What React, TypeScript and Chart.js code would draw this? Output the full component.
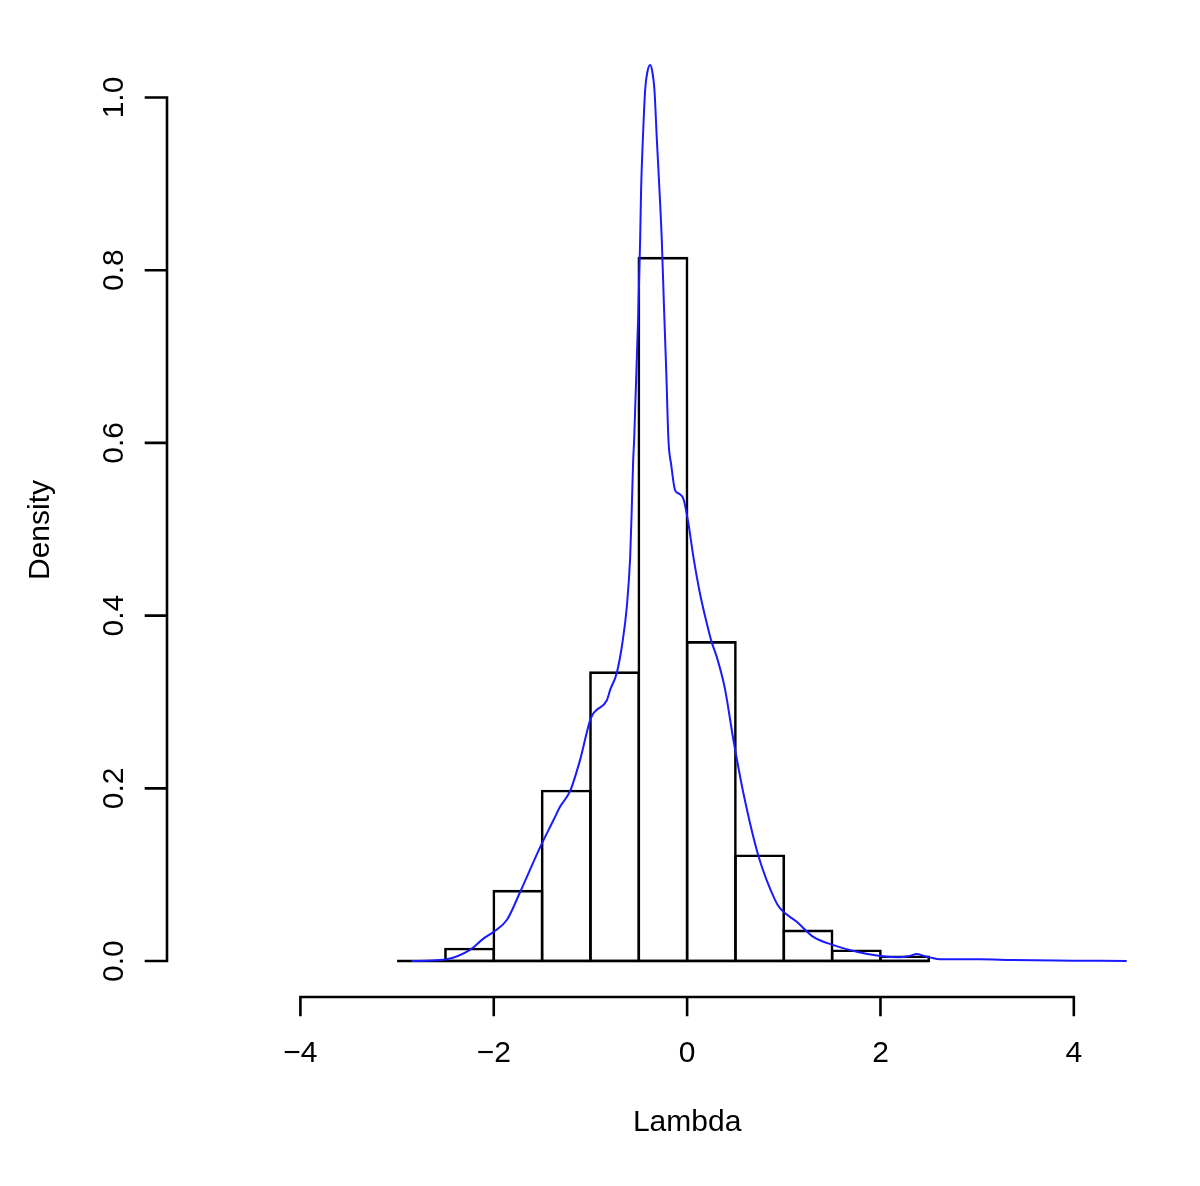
import { useEffect, useRef } from 'react';
import { Chart, registerables } from 'chart.js';

Chart.register(...registerables);

// Histogram bins (width 0.5), centers and density heights
const binWidth = 0.5;
const binCenters = [-2.75, -2.25, -1.75, -1.25, -0.75, -0.25, 0.25, 0.75, 1.25, 1.75, 2.25];
const binDensity = [0, 0.014, 0.081, 0.197, 0.334, 0.814, 0.369, 0.122, 0.035, 0.012, 0.005];

// Kernel density curve
const densityX = [
  -2.85, -2.7, -2.49, -2.25, -2.107, -2.0, -1.865, -1.727, -1.52, -1.383, -1.313, -1.21, -1.107,
  -1.003, -0.969, -0.934, -0.83, -0.796, -0.727, -0.67, -0.624, -0.589, -0.572, -0.558, -0.548,
  -0.505, -0.486, -0.476, -0.458, -0.434, -0.41, -0.383, -0.36, -0.338, -0.313, -0.286, -0.262,
  -0.24, -0.215, -0.193, -0.165, -0.124, -0.08, -0.038, 0.013, 0.065, 0.134, 0.204, 0.255, 0.307,
  0.39, 0.479, 0.583, 0.738, 0.91, 0.962, 1.134, 1.306, 1.513, 1.755, 1.996, 2.2, 2.3, 2.375,
  2.45, 2.51, 2.616, 3.03, 3.37, 4.0, 4.547,
];
const densityY = [
  0.0, 0.0005, 0.002, 0.0127, 0.026, 0.034, 0.0475, 0.08, 0.132, 0.163, 0.179, 0.197, 0.233,
  0.279, 0.287, 0.291, 0.302, 0.314, 0.334, 0.368, 0.41, 0.468, 0.526, 0.58, 0.603,
  0.75, 0.835, 0.893, 0.951, 1.009, 1.03, 1.0376, 1.03, 1.009, 0.951, 0.893, 0.835,
  0.76, 0.68, 0.603, 0.575, 0.545, 0.541, 0.535, 0.507, 0.468, 0.425, 0.391, 0.369, 0.352,
  0.316, 0.256, 0.194, 0.1216, 0.0706, 0.061, 0.0455, 0.028, 0.0185, 0.0108, 0.0058, 0.0043, 0.006, 0.0081,
  0.006, 0.0043, 0.002, 0.002, 0.0012, 0.0005, 0.0,
];

const xTicks = [-4, -2, 0, 2, 4];
const xTickLabels = ['\u22124', '\u22122', '0', '2', '4'];
const yTicks = [0, 0.2, 0.4, 0.6, 0.8, 1.0];
const yTickLabels = ['0.0', '0.2', '0.4', '0.6', '0.8', '1.0'];
const xTitle = 'Lambda';
const yTitle = 'Density';

const FONT = '30px "Liberation Sans", Arial, Helvetica, sans-serif';

export default function App() {
  const ref = useRef<HTMLCanvasElement>(null);

  useEffect(() => {
    const canvas = ref.current;
    if (!canvas) return;

    const axesPlugin = {
      id: 'rAxes',
      afterDraw(chart: any) {
        const { ctx, chartArea, scales } = chart;
        const xs = scales.x;
        const ys = scales.y;
        ctx.save();
        ctx.strokeStyle = '#000';
        ctx.lineWidth = 2.6;
        ctx.lineCap = 'square';

        // x axis
        const xb = chartArea.bottom;
        ctx.beginPath();
        ctx.moveTo(xs.getPixelForValue(xTicks[0]), xb);
        ctx.lineTo(xs.getPixelForValue(xTicks[xTicks.length - 1]), xb);
        for (const t of xTicks) {
          const px = xs.getPixelForValue(t);
          ctx.moveTo(px, xb);
          ctx.lineTo(px, xb + 18);
        }
        ctx.stroke();

        // y axis
        const yl = chartArea.left;
        ctx.beginPath();
        ctx.moveTo(yl, ys.getPixelForValue(yTicks[0]));
        ctx.lineTo(yl, ys.getPixelForValue(yTicks[yTicks.length - 1]));
        for (const t of yTicks) {
          const py = ys.getPixelForValue(t);
          ctx.moveTo(yl, py);
          ctx.lineTo(yl - 21, py);
        }
        ctx.stroke();

        ctx.fillStyle = '#000';
        ctx.font = FONT;
        ctx.textAlign = 'center';
        ctx.textBaseline = 'alphabetic';
        xTicks.forEach((t, i) => {
          ctx.fillText(xTickLabels[i], xs.getPixelForValue(t), 1062);
        });
        yTicks.forEach((t, i) => {
          const py = ys.getPixelForValue(t);
          ctx.save();
          ctx.translate(123, py);
          ctx.rotate(-Math.PI / 2);
          ctx.fillText(yTickLabels[i], 0, 0);
          ctx.restore();
        });

        // titles
        ctx.fillText(xTitle, xs.getPixelForValue(0), 1131);
        ctx.save();
        ctx.translate(49, 530);
        ctx.rotate(-Math.PI / 2);
        ctx.fillText(yTitle, 0, 0);
        ctx.restore();

        ctx.restore();
      },
    };

    const histStart = binCenters[0] - binWidth / 2;
    const histEnd = binCenters[binCenters.length - 1] + binWidth / 2;

    const chart = new Chart(canvas, {
      type: 'bar',
      data: {
        datasets: [
          {
            type: 'line',
            data: densityX.map((x, i) => ({ x, y: densityY[i] })),
            borderColor: '#1a1aff',
            borderWidth: 2,
            pointRadius: 0,
            cubicInterpolationMode: 'monotone',
            fill: false,
            order: 0,
          } as any,
          {
            // bottom edges of the histogram rectangles
            type: 'line',
            data: [
              { x: histStart, y: 0 },
              { x: histEnd, y: 0 },
            ],
            borderColor: '#000',
            borderWidth: 2.6,
            pointRadius: 0,
            fill: false,
            order: 1,
          } as any,
          {
            type: 'bar',
            data: binCenters.map((x, i) => ({ x, y: binDensity[i] })),
            backgroundColor: 'rgba(0,0,0,0)',
            borderColor: '#000',
            borderWidth: 0.01,
            inflateAmount: 1.3,
            borderSkipped: false,
            barPercentage: 1,
            categoryPercentage: 1,
            order: 2,
          } as any,
        ],
      },
      options: {
        responsive: false,
        animation: false,
        devicePixelRatio: 1,
        events: [],
        layout: { padding: { left: 167, right: 0.5, top: 27, bottom: 189 } },
        scales: {
          x: { type: 'linear', min: -5.38, max: 5.3, display: false, offset: false, grid: { lineWidth: 0 } },
          y: { type: 'linear', min: -0.0416, max: 1.0816, display: false, grid: { lineWidth: 0 } },
        },
        plugins: {
          legend: { display: false },
          tooltip: { enabled: false },
        },
      } as any,
      plugins: [axesPlugin],
    });

    return () => chart.destroy();
  }, []);

  return (
    <div style={{ position: 'absolute', left: 0, top: 0, width: 1200, height: 1186, background: '#fff' }}>
      <canvas ref={ref} width={1200} height={1186} style={{ display: 'block', width: 1200, height: 1186 }} />
    </div>
  );
}
